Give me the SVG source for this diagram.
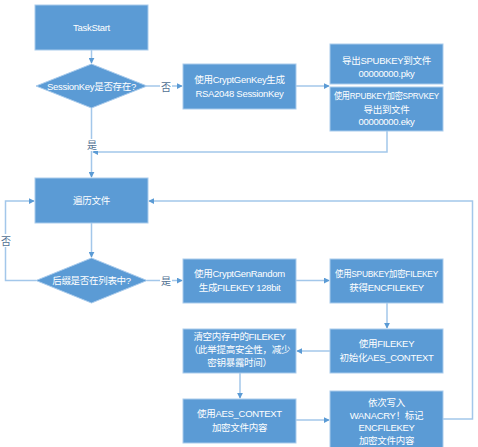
<svg xmlns="http://www.w3.org/2000/svg" width="478" height="447" viewBox="0 0 478 447">
<defs>
<style>
.box{fill:#5b9bd5;stroke:#a9cbec;stroke-width:1}
.t{font-family:"Liberation Sans","Noto Sans CJK SC",sans-serif;font-size:9.5px;fill:#ffffff;text-anchor:middle;letter-spacing:-0.3px}
.lbl{font-family:"Noto Sans CJK SC",sans-serif;font-size:10px;fill:#4f6f92;text-anchor:middle}
.ln{fill:none;stroke:#a3c7ea;stroke-width:1.5}
</style>
<marker id="ah" viewBox="0 0 8 8" refX="7" refY="4" markerWidth="6" markerHeight="6" orient="auto" markerUnits="userSpaceOnUse">
<path d="M0,0 L8,4 L0,8 z" fill="#5b9bd5"/>
</marker>
</defs>
<rect width="478" height="447" fill="#ffffff"/>
<g id="connectors">
<path class="ln" d="M91.5,50 L91.5,63" marker-end="url(#ah)"/>
<path class="ln" d="M147,86 L182,86" marker-end="url(#ah)"/>
<path class="ln" d="M296,86 L329,86" marker-end="url(#ah)"/>
<path class="ln" d="M387,131 L387,152 L93,152" marker-end="url(#ah)"/>
<path class="ln" d="M91.5,108 L91.5,177" marker-end="url(#ah)"/>
<path class="ln" d="M91.5,223 L91.5,257" marker-end="url(#ah)"/>
<path class="ln" d="M36,280.5 L5.5,280.5 L5.5,201 L34,201" marker-end="url(#ah)"/>
<path class="ln" d="M147,280.5 L182,280.5" marker-end="url(#ah)"/>
<path class="ln" d="M296,280.5 L329,280.5" marker-end="url(#ah)"/>
<path class="ln" d="M387,303 L387,328" marker-end="url(#ah)"/>
<path class="ln" d="M330,351 L297,351" marker-end="url(#ah)"/>
<path class="ln" d="M240,373 L240,398" marker-end="url(#ah)"/>
<path class="ln" d="M296,420 L329,420" marker-end="url(#ah)"/>
<path class="ln" d="M443,419 L472.5,419 L472.5,201 L149,201" marker-end="url(#ah)"/>
<rect x="160" y="80" width="12" height="13" fill="#ffffff"/>
<text class="lbl" x="166" y="90.5">否</text>
<rect x="86" y="139" width="12" height="12" fill="#ffffff"/>
<text class="lbl" x="92" y="149">是</text>
<rect x="0" y="234" width="12" height="13" fill="#ffffff"/>
<text class="lbl" x="6" y="245">否</text>
<rect x="160" y="274" width="12" height="13" fill="#ffffff"/>
<text class="lbl" x="166" y="284.5">是</text>
</g>
<g id="taskstart">
<rect class="box" x="35" y="5" width="113" height="45"/>
<text class="t" x="91.5" y="31">TaskStart</text>
</g>
<g id="sessionkey-exists">
<polygon class="box" points="91.5,64 147,86 91.5,108 36,86"/>
<text class="t" x="91.5" y="89.5">SessionKey是否存在?</text>
</g>
<g id="gen-sessionkey">
<rect class="box" x="183" y="64" width="113" height="45"/>
<text class="t" x="239.5" y="83">使用CryptGenKey生成</text>
<text class="t" x="239.5" y="97">RSA2048 SessionKey</text>
</g>
<g id="export-spubkey">
<rect class="box" x="330" y="44" width="113" height="40"/>
<text class="t" x="386.5" y="64">导出SPUBKEY到文件</text>
<text class="t" x="386.5" y="77">00000000.pky</text>
</g>
<g id="export-sprvkey">
<rect class="box" x="330" y="87" width="113" height="44"/>
<text class="t" x="386.5" y="99" textLength="105" lengthAdjust="spacingAndGlyphs">使用RPUBKEY加密SPRVKEY</text>
<text class="t" x="386.5" y="112.5">导出到文件</text>
<text class="t" x="386.5" y="125">00000000.eky</text>
</g>
<g id="traverse-files">
<rect class="box" x="35" y="178" width="113" height="45"/>
<text class="t" x="91.5" y="204">遍历文件</text>
</g>
<g id="suffix-in-list">
<polygon class="box" points="91.5,258 147,280.5 91.5,303 36,280.5"/>
<text class="t" x="91.5" y="284">后缀是否在列表中?</text>
</g>
<g id="gen-filekey">
<rect class="box" x="183" y="259" width="113" height="44"/>
<text class="t" x="239.5" y="277">使用CryptGenRandom</text>
<text class="t" x="239.5" y="290.5">生成FILEKEY 128bit</text>
</g>
<g id="encrypt-filekey">
<rect class="box" x="330" y="259" width="113" height="44"/>
<text class="t" x="386.5" y="277" textLength="103" lengthAdjust="spacingAndGlyphs">使用SPUBKEY加密FILEKEY</text>
<text class="t" x="386.5" y="290.5">获得ENCFILEKEY</text>
</g>
<g id="init-aes">
<rect class="box" x="330" y="329" width="113" height="44"/>
<text class="t" x="386.5" y="347">使用FILEKEY</text>
<text class="t" x="386.5" y="360.5">初始化AES_CONTEXT</text>
</g>
<g id="clear-filekey">
<rect class="box" x="183" y="329" width="113" height="44"/>
<text class="t" x="239.5" y="339.5">清空内存中的FILEKEY</text>
<text class="t" x="239.5" y="352.5">（此举提高安全性，减少</text>
<text class="t" x="239.5" y="365.5">密钥暴露时间）</text>
</g>
<g id="encrypt-content">
<rect class="box" x="183" y="399" width="113" height="44"/>
<text class="t" x="239.5" y="417">使用AES_CONTEXT</text>
<text class="t" x="239.5" y="430.5">加密文件内容</text>
</g>
<g id="write-output">
<rect class="box" x="330" y="391" width="113" height="62"/>
<text class="t" x="386.5" y="406">依次写入</text>
<text class="t" x="386.5" y="418.5">WANACRY！标记</text>
<text class="t" x="386.5" y="431">ENCFILEKEY</text>
<text class="t" x="386.5" y="444">加密文件内容</text>
</g>
</svg>
